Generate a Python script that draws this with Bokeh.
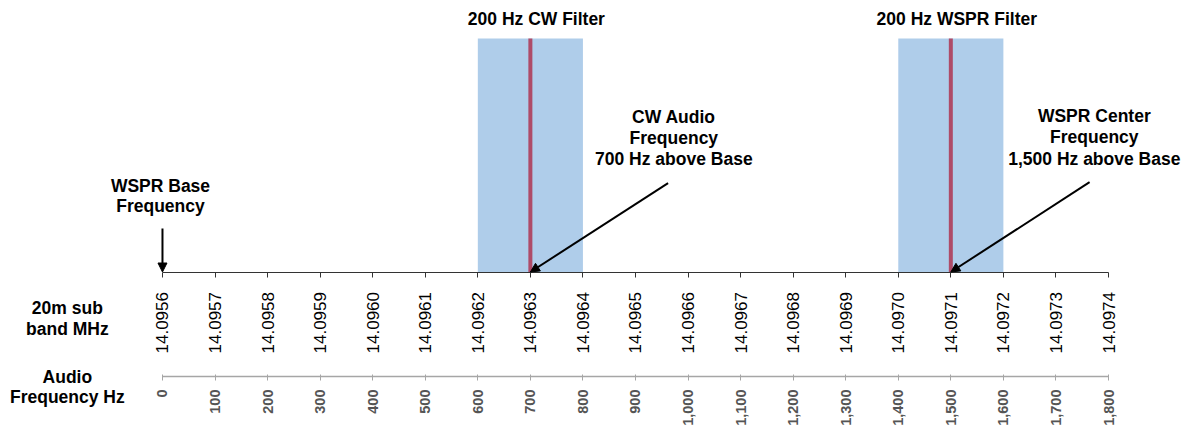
import math
from bokeh.plotting import figure
from bokeh.models import (LinearAxis, Range1d, FixedTicker, NumeralTickFormatter,
                          Arrow, NormalHead)
from bokeh.core.properties import value
from bokeh.embed import file_html
from bokeh.resources import INLINE

# ---------------- data ----------------
audio_ticks = [0, 100, 200, 300, 400, 500, 600, 700, 800, 900, 1000,
               1100, 1200, 1300, 1400, 1500, 1600, 1700, 1800]
mhz_labels = ["14.0956", "14.0957", "14.0958", "14.0959", "14.0960",
              "14.0961", "14.0962", "14.0963", "14.0964", "14.0965",
              "14.0966", "14.0967", "14.0968", "14.0969", "14.0970",
              "14.0971", "14.0972", "14.0973", "14.0974"]

filter_names = ["200 Hz CW Filter", "200 Hz WSPR Filter"]
filter_low = [600, 1400]
filter_high = [800, 1600]
filter_center = [700, 1500]

base_freq = 0
cw_note = ["CW Audio", "Frequency", "700 Hz above Base"]
wspr_note = ["WSPR Center", "Frequency", "1,500 Hz above Base"]
base_note = ["WSPR Base", "Frequency"]
axis_titles_mhz = ["20m sub", "band MHz"]
axis_titles_audio = ["Audio", "Frequency Hz"]

# ---------------- layout constants (screen-like y, 0 = top) ----------------
W, H = 1183, 429
Y_AXIS1 = 271.5
Y_AXIS2 = 376
Y_TOP = 38
FONT = "Liberation Sans"

p = figure(width=W, height=H, output_backend="svg", toolbar_location=None,
           x_range=Range1d(-308.2, 1942.7), y_range=Range1d(H, 0),
           x_axis_type=None, y_axis_type=None, title=None,
           min_border=0, min_border_left=0, min_border_right=0,
           min_border_top=0, min_border_bottom=0)
p.outline_line_color = None
p.background_fill_color = "white"
p.border_fill_color = "white"
p.xgrid.visible = False
p.ygrid.visible = False

# filter bands
p.quad(left=filter_low, right=filter_high, top=Y_TOP, bottom=Y_AXIS1,
       fill_color="#AFCDEA", line_color=None)
# centre lines
p.segment(x0=filter_center, x1=filter_center, y0=Y_TOP, y1=Y_AXIS1,
          line_color="#AE4B68", line_width=4, line_cap="butt")

# filter titles
p.text(x=filter_center, y=[18.5, 18.5], text=filter_names, x_offset=6,
       text_font=value(FONT), text_font_style="bold", text_font_size="17.5px",
       text_align="center", text_baseline="middle", text_color="black")

def note(lines, x, ys, x_offset=0):
    p.text(x=[x] * len(lines), y=ys, text=lines, x_offset=x_offset,
           text_font=value(FONT), text_font_style="bold", text_font_size="17.5px",
           text_align="center", text_baseline="middle", text_color="black")

note(cw_note, 973, [116, 137, 158])
note(wspr_note, 1773, [115, 136.5, 158])
note(base_note, base_freq, [185, 205.5], x_offset=-2)
note(axis_titles_mhz, -181, [307.5, 328])
note(axis_titles_audio, -181, [376, 396])

# arrows
for (xs, ys, xe) in [(962, 182.7, filter_center[0]),
                     (1764, 181.7, filter_center[1]),
                     (base_freq, 228, base_freq)]:
    p.add_layout(Arrow(end=NormalHead(size=9, fill_color="black", line_color="black",
                                      line_width=1),
                       x_start=xs, y_start=ys, x_end=xe, y_end=Y_AXIS1,
                       line_color="black", line_width=2))

# MHz axis
ax1 = LinearAxis(fixed_location=Y_AXIS1, bounds=(audio_ticks[0], audio_ticks[-1]),
                 ticker=FixedTicker(ticks=audio_ticks, minor_ticks=[]),
                 major_label_overrides={t: s for t, s in zip(audio_ticks, mhz_labels)})
ax1.axis_line_color = "#333333"
ax1.axis_line_width = 1
ax1.major_tick_line_color = "#333333"
ax1.major_tick_in = 0
ax1.major_tick_out = 5
ax1.minor_tick_line_color = None
ax1.major_label_orientation = math.pi / 2
ax1.major_label_standoff = 15
ax1.major_label_text_font = FONT
ax1.major_label_text_font_size = "17px"
ax1.major_label_text_color = "black"
p.add_layout(ax1, "below")

# Audio axis
ax2 = LinearAxis(fixed_location=Y_AXIS2, bounds=(audio_ticks[0], audio_ticks[-1]),
                 ticker=FixedTicker(ticks=audio_ticks, minor_ticks=[]),
                 formatter=NumeralTickFormatter(format="0,0"))
ax2.axis_line_color = "#A6A6A6"
ax2.axis_line_width = 1.5
ax2.major_tick_line_color = "#A6A6A6"
ax2.major_tick_in = 2
ax2.major_tick_out = 4
ax2.minor_tick_line_color = None
ax2.major_label_orientation = math.pi / 2
ax2.major_label_standoff = 9
ax2.major_label_text_font = FONT
ax2.major_label_text_font_style = "bold"
ax2.major_label_text_font_size = "14.5px"
ax2.major_label_text_color = "#555555"
p.add_layout(ax2, "below")

open("out.html", "w").write(file_html(p, INLINE))
